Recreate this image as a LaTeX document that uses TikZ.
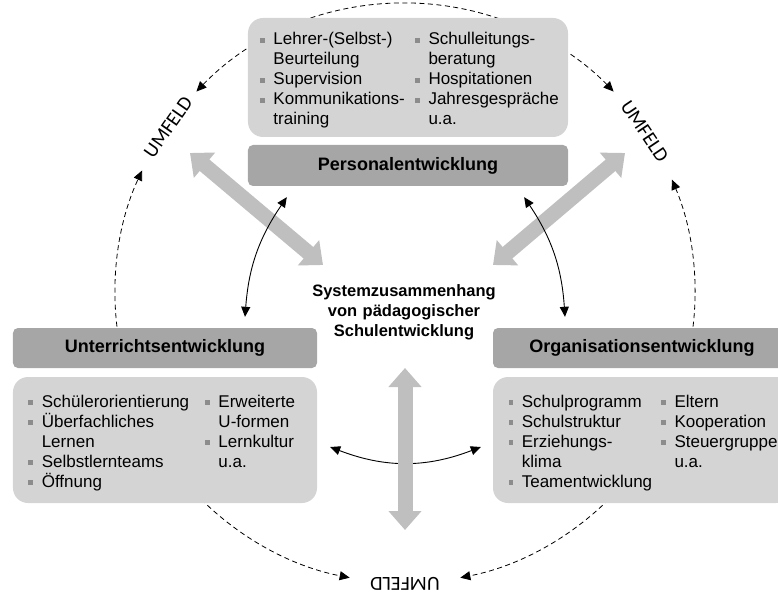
\documentclass[tikz,border=0pt]{standalone}
\usepackage{fontspec}
\setmainfont{Liberation Sans}
\newfontfamily\umfeldfont{Carlito}
\usetikzlibrary{arrows.meta,calc}

\definecolor{boxlight}{HTML}{D4D4D4}
\definecolor{boxdark}{HTML}{A6A6A6}
\definecolor{arrowgrey}{HTML}{BFBFBF}
\definecolor{bulletgrey}{HTML}{8C8C8C}

\newcommand{\bul}{\makebox[13.3pt][l]{\textcolor{bulletgrey}{\rule[2.3pt]{4.5pt}{4.5pt}}}}
\newcommand{\ind}{\hspace*{13.3pt}}

\begin{document}
\begin{tikzpicture}[x=1pt,y=1pt,>={Triangle[width=9pt,length=10pt]},
  lightbox/.style={fill=boxlight,rounded corners=15pt,inner sep=0pt},
  titlebox/.style={fill=boxdark,rounded corners=5pt,inner sep=0pt,font=\bfseries\fontsize{18}{20}\selectfont},
  itemcol/.style={anchor=base west,inner sep=0pt,align=left,font=\fontsize{17}{20}\selectfont},
  greyarrow/.style={draw=arrowgrey,line width=15pt,{Triangle[width=32pt,length=19pt]}-{Triangle[width=32pt,length=19pt]}},
  linkarrow/.style={line width=0.9pt,<->},
  umfeldline/.style={line width=0.8pt,dash pattern=on 5pt off 3.5pt},
  umfeld/.style={font=\umfeldfont\fontsize{20}{20}\selectfont,inner sep=0pt}]

\useasboundingbox (-405,-301) rectangle (373,293);
\clip (-405,-301) rectangle (373,293);

% Umfeld (dashed circle)
\coordinate (umfTL) at (136:290);
\coordinate (umfL) at (190:290);
\coordinate (umfBL) at (222:290);
\coordinate (umfBR) at (-42:290);
\coordinate (umfR) at (-10:290);
\draw[umfeldline,<->] (umfTL) arc[start angle=136,end angle=44,radius=290];
\draw[umfeldline,->] (umfL) arc[start angle=190,end angle=155,radius=290];
\draw[umfeldline,->] (umfBL) arc[start angle=222,end angle=259,radius=290];
\draw[umfeldline,->] (umfBR) arc[start angle=-42,end angle=-79,radius=290];
\draw[umfeldline,->] (umfR) arc[start angle=-10,end angle=23,radius=290];
\node[umfeld,rotate=55] (umfeldL) at (145:289) {UMFELD};
\node[umfeld,rotate=-56] (umfeldR) at (34:289) {UMFELD};
\node[umfeld,rotate=180] (umfeldB) at (270:291) {UMFELD};

% Personalentwicklung
\node[lightbox,minimum width=320pt,minimum height=119pt] (persbox) at (3,215.5) {};
\node[itemcol,text width=152pt] (perslist1) at (-145,248) {\bul Lehrer-(Selbst-)\\ \ind Beurteilung\\ \bul Supervision\\ \bul Kommunikations-\\ \ind training};
\node[itemcol,text width=152pt] (perslist2) at (10,248) {\bul Schulleitungs-\\ \ind beratung\\ \bul Hospitationen\\ \bul Jahresgespräche\\ \ind u.a.};
\node[titlebox,minimum width=320pt,minimum height=41pt] (perstitle) at (3,127.5) {Personalentwicklung};

% Unterrichtsentwicklung
\node[titlebox,minimum width=304pt,minimum height=40pt] (unttitle) at (-240,-55) {Unterrichtsentwicklung};
\node[lightbox,minimum width=304pt,minimum height=126pt] (untbox) at (-240,-147) {};
\node[itemcol,text width=170pt] (untlist1) at (-376.7,-114) {\bul Schülerorientierung\\ \bul Überfachliches\\ \ind Lernen\\ \bul Selbstlernteams\\ \bul Öffnung};
\node[itemcol,text width=110pt] (untlist2) at (-200,-114) {\bul Erweiterte\\ \ind U-formen\\ \bul Lernkultur\\ \ind u.a.};

% Organisationsentwicklung
\node[titlebox,minimum width=298pt,minimum height=40pt] (orgtitle) at (237,-55) {Organisationsentwicklung};
\node[lightbox,minimum width=298pt,minimum height=126pt] (orgbox) at (237,-147) {};
\node[itemcol,text width=150pt] (orglist1) at (103.3,-114) {\bul Schulprogramm\\ \bul Schulstruktur\\ \bul Erziehungs-\\ \ind klima\\ \bul Teamentwicklung};
\node[itemcol,text width=130pt] (orglist2) at (256,-114) {\bul Eltern\\ \bul Kooperation\\ \bul Steuergruppe\\ \ind u.a.};

% Systemzusammenhang
\node[anchor=base,text width=200pt,align=center,inner sep=0pt,font=\bfseries\fontsize{16.5}{19.5}\selectfont] (system) at (-1,-4) {Systemzusammenhang\\ von pädagogischer\\ Schulentwicklung};

% links between the fields
\coordinate (untlow) at ($(untbox.east)+(13,-7)$);
\coordinate (orglow) at ($(orgbox.west)+(-12,-7)$);
\draw[linkarrow] (untlow) to[bend right=21] (orglow);

\coordinate (umfeldTL) at (-215,140);
\coordinate (systemTL) at (-82,28);
\coordinate (umfeldTR) at (220,140);
\coordinate (systemTR) at (88,28);
\coordinate (systemB) at (0,-75);
\coordinate (umfeldBot) at (0,-237);
\draw[greyarrow] (umfeldTL) -- (systemTL);
\draw[greyarrow] (umfeldTR) -- (systemTR);
\draw[greyarrow] (systemB) -- (umfeldBot);

\coordinate (untup) at ($(unttitle.north)+(80,11)$);
\coordinate (perslinkL) at ($(perstitle.south west)+(39,-11)$);
\coordinate (orgup) at ($(orgtitle.north)+(-77,11)$);
\coordinate (perslinkR) at ($(perstitle.south east)+(-44,-11)$);
\draw[linkarrow] (untup) to[bend left=15] (perslinkL);
\draw[linkarrow] (orgup) to[bend right=15] (perslinkR);
\end{tikzpicture}
\end{document}
